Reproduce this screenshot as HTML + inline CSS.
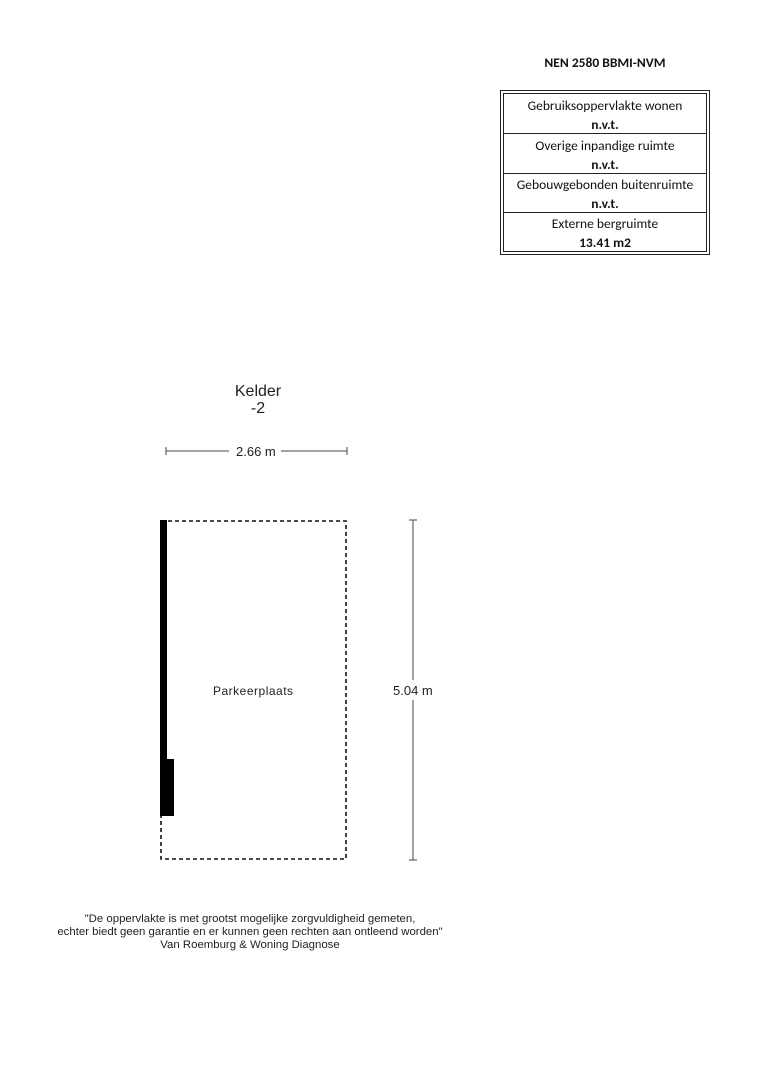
<!DOCTYPE html>
<html><head><meta charset="utf-8"><style>
body{margin:0;width:764px;height:1080px;background:#fff;position:relative;font-family:"Liberation Sans",sans-serif;overflow:hidden}
.t{position:absolute;white-space:nowrap}
.c{font-family:"Carlito","Liberation Sans",sans-serif;font-size:13.5px;color:#111;text-align:center}
</style></head><body>
<div class="t c" style="left:501px;width:208px;top:54px;font-weight:bold">NEN 2580 BBMI-NVM</div>
<div style="position:absolute;left:501px;top:91px;width:202px;height:157px;border:4px double #222;box-sizing:content-box;margin:-1px"></div>
<div class="t c" style="left:501px;width:208px;top:97px">Gebruiksoppervlakte wonen</div>
<div class="t c" style="left:501px;width:208px;top:116px;font-weight:bold">n.v.t.</div>
<div style="position:absolute;left:504px;width:202px;top:133px;border-top:1px solid #222"></div>
<div class="t c" style="left:501px;width:208px;top:137px">Overige inpandige ruimte</div>
<div class="t c" style="left:501px;width:208px;top:156px;font-weight:bold">n.v.t.</div>
<div style="position:absolute;left:504px;width:202px;top:173px;border-top:1px solid #222"></div>
<div class="t c" style="left:501px;width:208px;top:176px">Gebouwgebonden buitenruimte</div>
<div class="t c" style="left:501px;width:208px;top:195px;font-weight:bold">n.v.t.</div>
<div style="position:absolute;left:504px;width:202px;top:212px;border-top:1px solid #222"></div>
<div class="t c" style="left:501px;width:208px;top:215px">Externe bergruimte</div>
<div class="t c" style="left:501px;width:208px;top:234px;font-weight:bold">13.41 m2</div>

<div class="t" style="left:208px;width:100px;text-align:center;top:383px;font-size:16px;line-height:17px;color:#222">Kelder<br>-2</div>
<svg width="764" height="1080" style="position:absolute;left:0;top:0">
<g stroke="#444" stroke-width="1">
<line x1="166" y1="451" x2="229" y2="451"/><line x1="281" y1="451" x2="347" y2="451"/>
<line x1="166" y1="447" x2="166" y2="455"/><line x1="347" y1="447" x2="347" y2="455"/>
<line x1="413" y1="520" x2="413" y2="680"/><line x1="413" y1="700" x2="413" y2="860"/>
<line x1="409" y1="520" x2="417" y2="520"/><line x1="409" y1="860" x2="417" y2="860"/>
</g>
<rect x="161" y="521" width="185" height="338" fill="none" stroke="#111" stroke-width="1.6" stroke-dasharray="4,3"/>
<rect x="160" y="520" width="7" height="296" fill="#000"/>
<rect x="167" y="759" width="7" height="57" fill="#000"/>
</svg>
<div class="t" style="left:236px;top:444px;font-size:13px;color:#222">2.66 m</div>
<div class="t" style="left:393px;top:683px;font-size:13px;color:#222">5.04 m</div>
<div class="t" style="left:213px;top:684px;font-size:12px;color:#222;letter-spacing:0.5px">Parkeerplaats</div>
<div class="t" style="left:40px;width:420px;text-align:center;top:913px;font-size:11.4px;line-height:13px;color:#222">"De oppervlakte is met grootst mogelijke zorgvuldigheid gemeten,<br>echter biedt geen garantie en er kunnen geen rechten aan ontleend worden"<br>Van Roemburg &amp; Woning Diagnose</div>
</body></html>
